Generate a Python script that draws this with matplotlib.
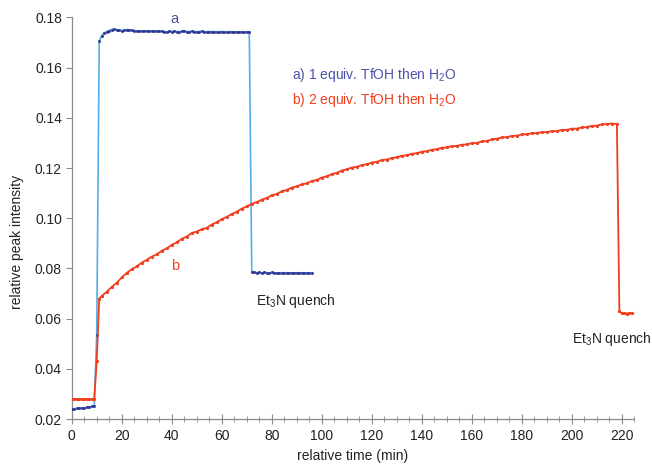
import matplotlib
matplotlib.use("Agg")
import matplotlib.pyplot as plt
from matplotlib.ticker import MultipleLocator, FormatStrFormatter

plt.rcParams['font.family'] = ['Liberation Sans', 'DejaVu Sans']
plt.rcParams['mathtext.fontset'] = 'custom'
plt.rcParams['mathtext.rm'] = 'Liberation Sans'
plt.rcParams['mathtext.it'] = 'Liberation Sans:italic'
plt.rcParams['mathtext.bf'] = 'Liberation Sans:bold'

# ---- data: series a (1 equiv. TfOH then H2O) ----
a_time = list(range(0, 97))
a_vals = [
    0.0240, 0.0241, 0.0242, 0.0244, 0.0244, 0.0245, 0.0246, 0.0248, 0.0250, 0.0252,
    0.0536, 0.1705, 0.1728, 0.1738, 0.1744, 0.1748, 0.1752, 0.1753, 0.1752, 0.1749,
    0.1748, 0.1750, 0.1752, 0.1751, 0.1749, 0.1748, 0.1747, 0.1747, 0.1746, 0.1747,
    0.1746, 0.1745, 0.1746, 0.1745, 0.1745, 0.1746, 0.1745, 0.1744, 0.1742, 0.1745,
    0.1744, 0.1746, 0.1744, 0.1743, 0.1745, 0.1746, 0.1744, 0.1744, 0.1745, 0.1744,
    0.1743, 0.1744, 0.1745, 0.1744, 0.1743, 0.1744, 0.1744, 0.1743, 0.1742, 0.1743,
    0.1744, 0.1743, 0.1742, 0.1743, 0.1744, 0.1742, 0.1743, 0.1741, 0.1743, 0.1742,
    0.1743, 0.1743, 0.0787, 0.0784, 0.0783, 0.0784, 0.0782, 0.0785, 0.0783, 0.0782,
    0.0784, 0.0783, 0.0782, 0.0783, 0.0782, 0.0783, 0.0783, 0.0782, 0.0783, 0.0782,
    0.0783, 0.0782, 0.0783, 0.0782, 0.0783, 0.0782, 0.0783,
]

# ---- data: series b (2 equiv. TfOH then H2O) ----
b_time = list(range(0, 12)) + list(range(12, 219, 2)) + [219, 220, 221, 222, 223, 224]
b_vals = [
    0.0279, 0.0279, 0.0279, 0.0279, 0.0279, 0.0279, 0.0279, 0.0279, 0.0279, 0.0279,
    0.0430, 0.0680,
    0.0690, 0.0707, 0.0726, 0.0743, 0.0764, 0.0782, 0.0797, 0.0808, 0.0823, 0.0834,
    0.0847, 0.0856, 0.0870, 0.0880, 0.0894, 0.0904, 0.0918, 0.0927, 0.0941, 0.0947,
    0.0956, 0.0962, 0.0975, 0.0984, 0.0996, 0.1005, 0.1017, 0.1026, 0.1038, 0.1047,
    0.1058, 0.1064, 0.1074, 0.1081, 0.1091, 0.1097, 0.1107, 0.1113, 0.1122, 0.1127,
    0.1135, 0.1139, 0.1148, 0.1153, 0.1162, 0.1167, 0.1176, 0.1181, 0.1190, 0.1195,
    0.1202, 0.1205, 0.1212, 0.1215, 0.1222, 0.1225, 0.1232, 0.1234, 0.1240, 0.1243,
    0.1249, 0.1251, 0.1257, 0.1259, 0.1265, 0.1267, 0.1273, 0.1275, 0.1281, 0.1282,
    0.1287, 0.1288, 0.1293, 0.1294, 0.1299, 0.1300, 0.1306, 0.1308, 0.1314, 0.1317,
    0.1322, 0.1323, 0.1328, 0.1329, 0.1334, 0.1335, 0.1339, 0.1339, 0.1343, 0.1343,
    0.1347, 0.1347, 0.1352, 0.1352, 0.1357, 0.1357, 0.1362, 0.1363, 0.1368, 0.1369,
    0.1374, 0.1376, 0.1377, 0.1376,
    0.0629, 0.0621, 0.0622, 0.0620, 0.0622, 0.0623,
]

x_ticks = list(range(0, 221, 20))
y_ticks = [0.02, 0.04, 0.06, 0.08, 0.10, 0.12, 0.14, 0.16, 0.18]

navy = '#2b3190'
label_blue = '#4a52a8'
light_blue = '#55aee8'
red = '#f23d1e'
axis_gray = '#8c8c8c'
txt = '#222222'
fs = 10

fig = plt.figure(figsize=(6.52, 4.68), dpi=100)
ax = fig.add_axes([0.110, 0.1047, 0.863, 0.858])

ax.plot(a_time, a_vals, color=light_blue, lw=1.2, zorder=2)
ax.plot(a_time, a_vals, ls='none', marker='o', ms=1.7, mfc=navy, mec=navy, mew=0.4, zorder=3)
ax.plot(b_time, b_vals, color=red, lw=1.3, marker='o', ms=1.3, mfc=red, mec=red, zorder=4)

ax.set_xlim(0, 225)
ax.set_ylim(0.02, 0.18)
ax.set_xticks(x_ticks)
ax.set_yticks(y_ticks)
ax.xaxis.set_minor_locator(MultipleLocator(5))
ax.yaxis.set_major_formatter(FormatStrFormatter('%.2f'))

for s in ['top', 'right']:
    ax.spines[s].set_visible(False)
for s in ['left', 'bottom']:
    ax.spines[s].set_color(axis_gray)
    ax.spines[s].set_linewidth(0.9)

ax.tick_params(axis='y', which='major', direction='out', length=4, color=axis_gray,
               labelsize=fs, labelcolor=txt, pad=3)
ax.tick_params(axis='x', which='major', direction='inout', length=7, color=axis_gray,
               labelsize=fs, labelcolor=txt, pad=4)
ax.tick_params(axis='x', which='minor', direction='inout', length=4, color=axis_gray)

ax.set_xlabel('relative time (min)', fontsize=fs, color=txt, labelpad=4)
ax.set_ylabel('relative peak intensity', fontsize=fs, color=txt, labelpad=6)
ax.yaxis.set_label_coords(-0.085, 0.44)

ax.text(41.2, 0.1795, 'a', color=label_blue, fontsize=fs + 0.5, ha='center', va='center')
ax.text(41.2, 0.0809, 'b', color=red, fontsize=fs + 0.5, ha='center', va='center')
ax.text(87.9, 0.1570, r'a) 1 equiv. TfOH then H$_2$O', color=label_blue, fontsize=fs,
        ha='left', va='center')
ax.text(87.9, 0.1470, r'b) 2 equiv. TfOH then H$_2$O', color=red, fontsize=fs,
        ha='left', va='center')
ax.text(73.6, 0.0669, r'Et$_3$N quench', color=txt, fontsize=fs,
        ha='left', va='center')
ax.text(199.9, 0.0520, r'Et$_3$N quench', color=txt, fontsize=fs,
        ha='left', va='center', clip_on=False)

fig.savefig('out.png', dpi=100)
